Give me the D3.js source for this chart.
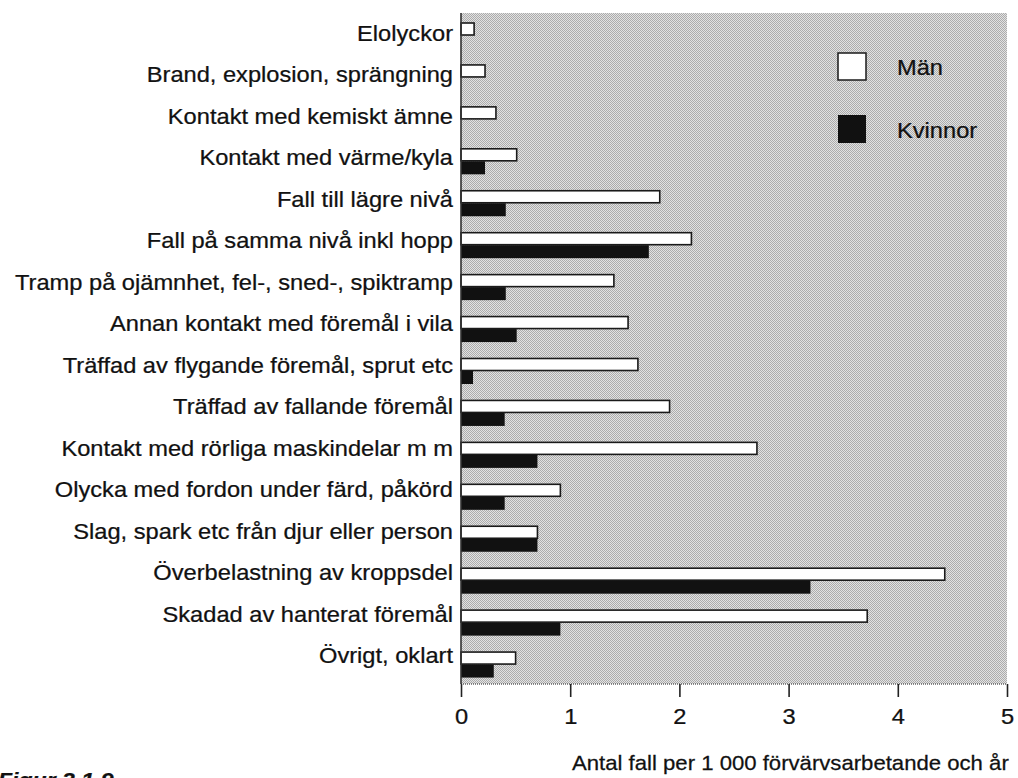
<!DOCTYPE html>
<html>
<head>
<meta charset="utf-8">
<script src="https://cdn.jsdelivr.net/npm/d3@7"></script>
<style>
 body { margin: 0; background: #fff; }
 text { font-family: "Liberation Sans", Arial, sans-serif; fill: #111; stroke: #111; stroke-width: 0.25px; }
</style>
</head>
<body>
<svg width="1018" height="778"></svg>
<script>
// categories, top to bottom
var categories = [
 "Elolyckor",
 "Brand, explosion, sprängning",
 "Kontakt med kemiskt ämne",
 "Kontakt med värme/kyla",
 "Fall till lägre nivå",
 "Fall på samma nivå inkl hopp",
 "Tramp på ojämnhet, fel-, sned-, spiktramp",
 "Annan kontakt med föremål i vila",
 "Träffad av flygande föremål, sprut etc",
 "Träffad av fallande föremål",
 "Kontakt med rörliga maskindelar m m",
 "Olycka med fordon under färd, påkörd",
 "Slag, spark etc från djur eller person",
 "Överbelastning av kroppsdel",
 "Skadad av hanterat föremål",
 "Övrigt, oklart"
];

// Män (white bars) and Kvinnor (black bars)
var man = [0.12, 0.22, 0.32, 0.51, 1.82, 2.11, 1.40, 1.53, 1.62, 1.91, 2.71, 0.91, 0.70, 4.43, 3.72, 0.50];
var kvinnor = [null, null, null, 0.22, 0.41, 1.72, 0.41, 0.51, 0.11, 0.40, 0.70, 0.40, 0.70, 3.20, 0.91, 0.30];

var ticks = [0, 1, 2, 3, 4, 5];
var seriesNames = ["Män", "Kvinnor"];
var xTitle = "Antal fall per 1 000 förvärvsarbetande och år";
var figTitle = "Figur 3.1.9";

var svg = d3.select("svg");
var fs = "21.5px";
var stretch = "scale(1.1,1)"; // the printed type is a bit wide

var x = d3.scaleLinear().domain([0, 5]).range([461, 1007]);
var y = d3.scaleBand().domain(categories).range([13, 684]);
var yLab = d3.scalePoint().domain(categories).range([33.6, 655.6]);

// halftone grey background
var pat = svg.append("defs").append("pattern")
 .attr("id", "dots")
 .attr("width", 2).attr("height", 2)
 .attr("patternUnits", "userSpaceOnUse");
pat.append("rect").attr("width", 2).attr("height", 2).attr("fill", "#e2e2e2");
pat.append("rect").attr("width", 1).attr("height", 1).attr("fill", "#acacac");
pat.append("rect").attr("x", 1).attr("y", 1).attr("width", 1).attr("height", 1).attr("fill", "#acacac");

svg.append("rect")
 .attr("x", x(0)).attr("y", y.range()[0])
 .attr("width", x(5) - x(0))
 .attr("height", y.range()[1] - y.range()[0])
 .attr("fill", "url(#dots)");

// bottom edge of the plot
svg.append("line")
 .attr("x1", x(0)).attr("x2", x(5))
 .attr("y1", y.range()[1]).attr("y2", y.range()[1])
 .attr("stroke", "#666").attr("stroke-width", 1.5)
 .attr("stroke-dasharray", "1,1");

// Män bars
svg.append("g").selectAll("rect")
 .data(categories)
 .enter().append("rect")
 .attr("x", x(0))
 .attr("y", function(d) { return y(d) + 10; })
 .attr("width", function(d, i) { return x(man[i]) - x(0); })
 .attr("height", 12)
 .attr("fill", "#fff")
 .attr("stroke", "#1a1a1a")
 .attr("stroke-width", 1.6);

// Kvinnor bars
svg.append("g").selectAll("rect")
 .data(categories.filter(function(d, i) { return kvinnor[i] != null; }))
 .enter().append("rect")
 .attr("x", x(0))
 .attr("y", function(d) { return y(d) + 22.5; })
 .attr("width", function(d) { return x(kvinnor[categories.indexOf(d)]) - x(0); })
 .attr("height", 13)
 .attr("fill", "#111");

// left axis line
svg.append("line")
 .attr("x1", x(0)).attr("x2", x(0))
 .attr("y1", y.range()[0]).attr("y2", y.range()[1])
 .attr("stroke", "#333").attr("stroke-width", 1.6);

// category labels
var left = svg.append("g")
 .attr("transform", "translate(" + x(0) + ",0)")
 .call(d3.axisLeft(yLab).tickSize(0));
left.select(".domain").remove();
left.selectAll("text")
 .attr("x", null)
 .attr("transform", "translate(-8,0) " + stretch)
 .style("font-size", fs)
 .attr("fill", "#111");

// bottom axis
var bottom = svg.append("g")
 .attr("transform", "translate(0," + y.range()[1] + ")")
 .call(d3.axisBottom(x).tickValues(ticks).tickSize(13).tickPadding(12).tickFormat(d3.format("d")));
bottom.select(".domain").remove();
bottom.selectAll("line").attr("stroke", "#222").attr("stroke-width", 1.6);
bottom.selectAll("text")
 .attr("transform", stretch)
 .style("font-size", fs)
 .attr("fill", "#111");

// axis title
svg.append("text")
 .attr("transform", "translate(572,770) scale(1.08,1)")
 .style("font-size", "20.5px")
 .text(xTitle);

// legend
var legend = svg.append("g");
legend.append("rect")
 .attr("x", 838).attr("y", 53).attr("width", 28).attr("height", 27)
 .attr("fill", "#fff").attr("stroke", "#1a1a1a").attr("stroke-width", 1.5);
legend.append("rect")
 .attr("x", 838).attr("y", 115).attr("width", 28).attr("height", 28)
 .attr("fill", "#111");
legend.selectAll("text")
 .data(seriesNames)
 .enter().append("text")
 .attr("transform", function(d, i) { return "translate(897," + (75 + i * 63) + ") " + stretch; })
 .style("font-size", fs)
 .text(function(d) { return d; });

// figure number, cut by the bottom edge
svg.append("text")
 .attr("transform", "translate(-2,787) " + stretch)
 .style("font-size", "21px")
 .style("font-weight", "bold")
 .style("font-style", "italic")
 .text(figTitle);
</script>
</body>
</html>
